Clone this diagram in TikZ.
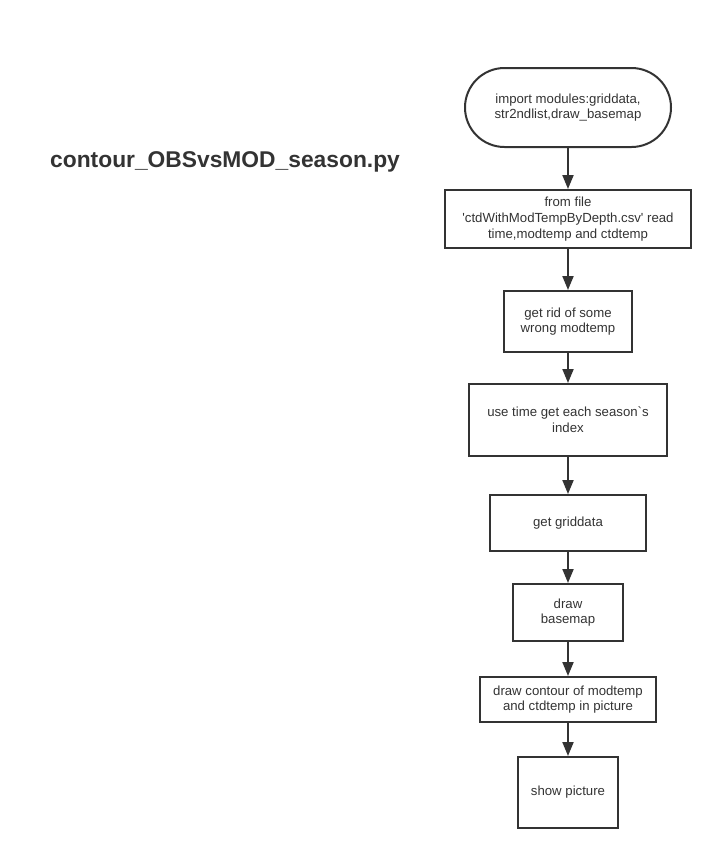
\documentclass[tikz,border=0pt]{standalone}
\usepackage{fontspec}
\setmainfont{Liberation Sans}
\usetikzlibrary{arrows.meta,shapes.misc}
\definecolor{ink}{HTML}{333333}
\tikzset{
  x=1pt,y=-1pt,
  box/.style={draw=ink,line width=2pt,text=ink,align=center,inner sep=0pt,
    font=\fontsize{13.2}{15.8}\selectfont,rectangle},
  startbox/.style={box,rounded rectangle},
  flow/.style={draw=ink,line width=2pt,-{Triangle[width=11pt,length=14pt]}},
}
\newcommand{\bx}[6]{%
  \node[#1,minimum width=#4-#3,minimum height=#6-#5] (#2) at ({(#3+#4)/2},{(#5+#6)/2})}
\begin{document}
\begin{tikzpicture}
\useasboundingbox (0,0) rectangle (723,860);
\node[text=ink,font=\fontsize{22.8}{26}\bfseries\selectfont,anchor=west,inner sep=0pt] (title) at (50,162) {contour\_OBSvsMOD\_season.py};
\bx{startbox}{n1}{465}{671}{68}{147} {import modules:griddata,\\str2ndlist,draw\_basemap};
\bx{box}{n2}{445}{691}{190}{248} {from file\\\textquotesingle ctdWithModTempByDepth.csv\textquotesingle\ read\\time,modtemp and ctdtemp};
\bx{box}{n3}{504}{632}{291}{352} {get rid of some\\wrong modtemp};
\bx{box}{n4}{469}{667}{384}{456} {use time get each season\textasciigrave s\\index};
\bx{box}{n5}{490}{646}{495}{551} {get griddata};
\bx{box}{n6}{513}{623}{584}{641} {draw\\basemap};
\bx{box}{n7}{480}{656}{677}{722} {draw contour of modtemp\\and ctdtemp in picture};
\bx{box}{n8}{518}{618}{757}{828} {show picture};
\foreach \a/\b in {n1/n2,n2/n3,n3/n4,n4/n5,n5/n6,n6/n7,n7/n8}
  \draw[flow] (\a.south) -- (\b.north);
\end{tikzpicture}
\end{document}
